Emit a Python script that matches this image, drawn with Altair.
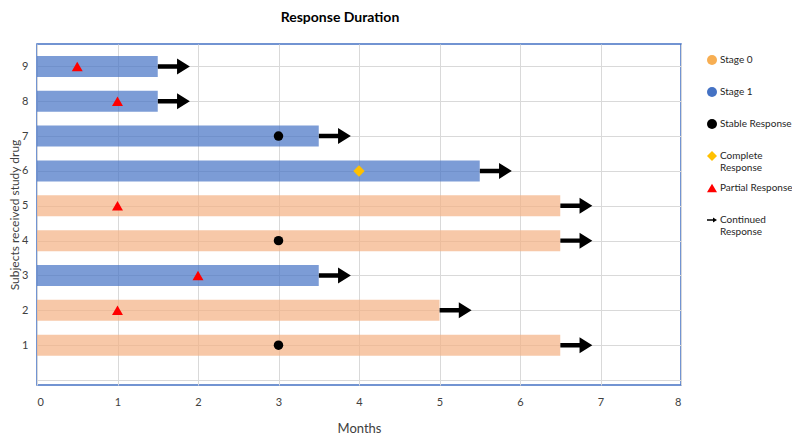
import altair as alt
import pandas as pd

# ---- data ----
subjects = [1, 2, 3, 4, 5, 6, 7, 8, 9]
durations = [6.5, 5.0, 3.5, 6.5, 6.5, 5.5, 3.5, 1.5, 1.5]
stages = ["Stage 0", "Stage 0", "Stage 1", "Stage 0", "Stage 0",
          "Stage 1", "Stage 1", "Stage 1", "Stage 1"]
response_months = [3, 1, 2, 3, 1, 4, 3, 1, 0.5]
responses = ["Stable Response", "Partial Response", "Partial Response",
             "Stable Response", "Partial Response", "Complete Response",
             "Stable Response", "Partial Response", "Partial Response"]
continued = [True] * 9

legend_labels = ["Stage 0", "Stage 1", "Stable Response", "Complete Response",
                 "Partial Response", "Continued Response"]
x_ticks = [0, 1, 2, 3, 4, 5, 6, 7, 8]
y_ticks = [0, 1, 2, 3, 4, 5, 6, 7, 8, 9]

df = pd.DataFrame({
    "subject": subjects,
    "duration": durations,
    "stage": stages,
    "month": response_months,
    "response": responses,
    "continued": continued,
})

FONT = "Lato"
ARROW = "M-1,-0.14L0.2,-0.14L0.2,-0.5L1,0L0.2,0.5L0.2,0.14L-1,0.14Z"

x_scale = alt.Scale(domain=[0, 8], nice=False, zero=True)
y_scale = alt.Scale(domain=[0, 9.5], nice=False, zero=True)

x_axis = alt.Axis(values=x_ticks, format="d", title="Months", domain=False,
                  ticks=False, labelOverlap=False,
                  labelPadding=11, titlePadding=15, gridColor="#D9D9D9",
                  labelFontSize=11, titleFontSize=13, titleFontWeight="normal",
                  labelColor="#404040", titleColor="#404040")
y_axis = alt.Axis(values=y_ticks, format="d", title="Subjects received study drug",
                  domain=False, ticks=False, labelOverlap=False,
                  labelPadding=9, titlePadding=0,
                  gridColor="#D9D9D9", labelFontSize=11, titleFontSize=12,
                  titleFontWeight="normal", labelColor="#404040",
                  titleColor="#404040",
                  labelExpr="datum.value == 0 ? '' : datum.label")

X_START = alt.X("start:Q", scale=x_scale, axis=x_axis)
Y_SUBJ = alt.Y("subject:Q", scale=y_scale, axis=y_axis)

base = alt.Chart(df)

bars = base.mark_bar(size=21, opacity=0.7).transform_calculate(
    start="0"
).encode(
    x=X_START,
    x2="duration:Q",
    y=Y_SUBJ,
    color=alt.Color("stage:N",
                    scale=alt.Scale(domain=["Stage 0", "Stage 1"],
                                    range=["#F4B183", "#4472C4"]),
                    legend=None),
)

arrows = base.transform_filter("datum.continued").transform_calculate(
    start="datum.duration + 0.2"
).mark_point(filled=True, opacity=1, strokeWidth=0).encode(
    x=X_START,
    y=Y_SUBJ,
    shape=alt.value(ARROW),
    size=alt.value(1024),
    color=alt.value("#000000"),
)

legend = alt.Legend(
    title=None, orient="none", legendX=670, legendY=11,
    labelFontSize=10, labelColor="#262626", labelFont=FONT,
    rowPadding=10, symbolStrokeWidth=0, labelOffset=3, symbolSize=100,
    symbolType=alt.ExprRef(expr="scale('shape', datum.value)"),
    labelLimit=200, gridAlign="all",
    labelExpr="datum.label == 'Complete Response' ? ['Complete', 'Response'] : "
              "datum.label == 'Continued Response' ? ['Continued', 'Response'] : datum.label",
)

points = base.transform_calculate(start="datum.month").mark_point(
    filled=True, opacity=1, strokeWidth=0
).encode(
    x=X_START,
    y=Y_SUBJ,
    color=alt.Color("response:N", legend=legend,
                    scale=alt.Scale(domain=legend_labels,
                                    range=["#F7AE52", "#4472C4", "#000000",
                                           "#FFC000", "#FF0000", "#000000"])),
    shape=alt.Shape("response:N", legend=None,
                    scale=alt.Scale(domain=legend_labels,
                                    range=["circle", "circle", "circle",
                                           "diamond", "triangle-up", ARROW])),
    size=alt.Size("response:N", legend=None,
                  scale=alt.Scale(type="ordinal", domain=legend_labels,
                                  range=[45, 45, 90, 130, 120, 169])),
)

chart = alt.layer(bars, arrows, points).resolve_scale(
    color="independent"
).properties(
    width=644, height=341,
    title=alt.TitleParams("Response Duration", fontSize=14, fontWeight="bold",
                          font=FONT, color="#000000", dx=-19, offset=19),
    autosize=alt.AutoSizeParams(type="none"),
    padding={"left": 29, "top": 36, "right": 111, "bottom": 50},
).configure(font=FONT).configure_view(
    stroke="#4472C4", strokeWidth=1.5
).configure_axis(labelFont=FONT, titleFont=FONT, gridWidth=1)

chart.save("out.html", embed_options={"renderer": "svg", "actions": False})
